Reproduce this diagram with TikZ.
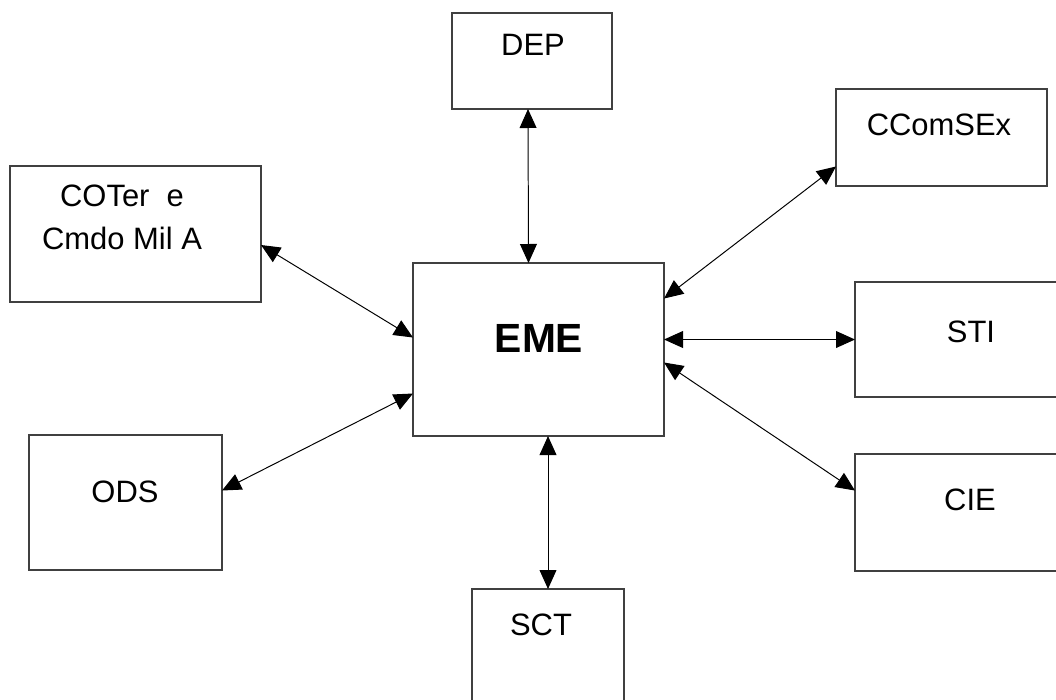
\documentclass[tikz,border=0pt]{standalone}
\usepackage{fontspec}
\setmainfont{Liberation Sans}
\usetikzlibrary{arrows.meta,calc}
\definecolor{boxLine}{HTML}{404040}

\begin{document}
\begin{tikzpicture}[
    x=0.025cm,y=-0.025cm,
    >={Triangle[length=13.5pt,width=12pt]},
    arrow/.style={<->,line width=0.7pt,black},
    unit/.style={rectangle,draw=boxLine,line width=0.8pt,fill=white,inner sep=0pt,outer sep=0pt},
    unit_text/.style={font=\fontsize{22pt}{30pt}\selectfont,inner sep=0pt,anchor=base},
    unit_main/.style={unit_text,font=\fontsize{29pt}{34pt}\selectfont\bfseries},
]
\useasboundingbox (0,0) rectangle (1056,699);
\clip (0,0) rectangle (1056,699);

% === BOXES ===
\node[unit,minimum width=4cm,minimum height=2.4cm] (dep) at (532,61) {};
\node[unit,minimum width=5.275cm,minimum height=2.425cm] (ccomsex) at (941.5,137.5) {};
\node[unit,minimum width=6.275cm,minimum height=3.4cm] (coter) at (135.5,234) {};
\node[unit,minimum width=6.275cm,minimum height=4.325cm] (eme) at (538.5,349.5) {};
\node[unit,minimum width=5.8cm,minimum height=2.875cm] (sti) at (971,339.5) {};
\node[unit,minimum width=5.8cm,minimum height=2.925cm] (cie) at (971,512.5) {};
\node[unit,minimum width=4.825cm,minimum height=3.375cm] (ods) at (125.5,502.5) {};
\node[unit,minimum width=3.8cm,minimum height=3.3cm] (sct) at (548,655) {};

% === TEXTS ===
\node[unit_text] (dep_t) at (533,55) {DEP};
\node[unit_text] (ccomsex_t) at (939,135) {CComSEx};
\node[unit_text,anchor=north,align=center] (coter_t) at (122,185) {COTer\ \ e\\Cmdo Mil A};
\node[unit_main] (eme_t) at (539,352) {EME};
\node[unit_text] (sti_t) at (971,342) {STI};
\node[unit_text] (cie_t) at (970,510) {CIE};
\node[unit_text] (ods_t) at (125,502) {ODS};
\node[unit_text] (sct_t) at (541,635) {SCT};

% === CONNECTIONS ===
\draw[arrow] ($(dep.south)+(-4,0)$) -- ($(eme.north)+(-10,0)$);
\draw[arrow] ($(ccomsex.west)+(0,29)$) -- ($(eme.east)+(0,-51)$);
\draw[arrow] ($(coter.east)+(0,11)$) -- ($(eme.west)+(0,-12)$);
\draw[arrow] (eme.east |- sti.west) -- (sti.west);
\draw[arrow] ($(ods.east)+(0,-12)$) -- ($(eme.west)+(0,44)$);
\draw[arrow] ($(eme.east)+(0,13)$) -- ($(cie.west)+(0,-22)$);
\draw[arrow] (sct.north |- eme.south) -- (sct.north);

\end{tikzpicture}
\end{document}
